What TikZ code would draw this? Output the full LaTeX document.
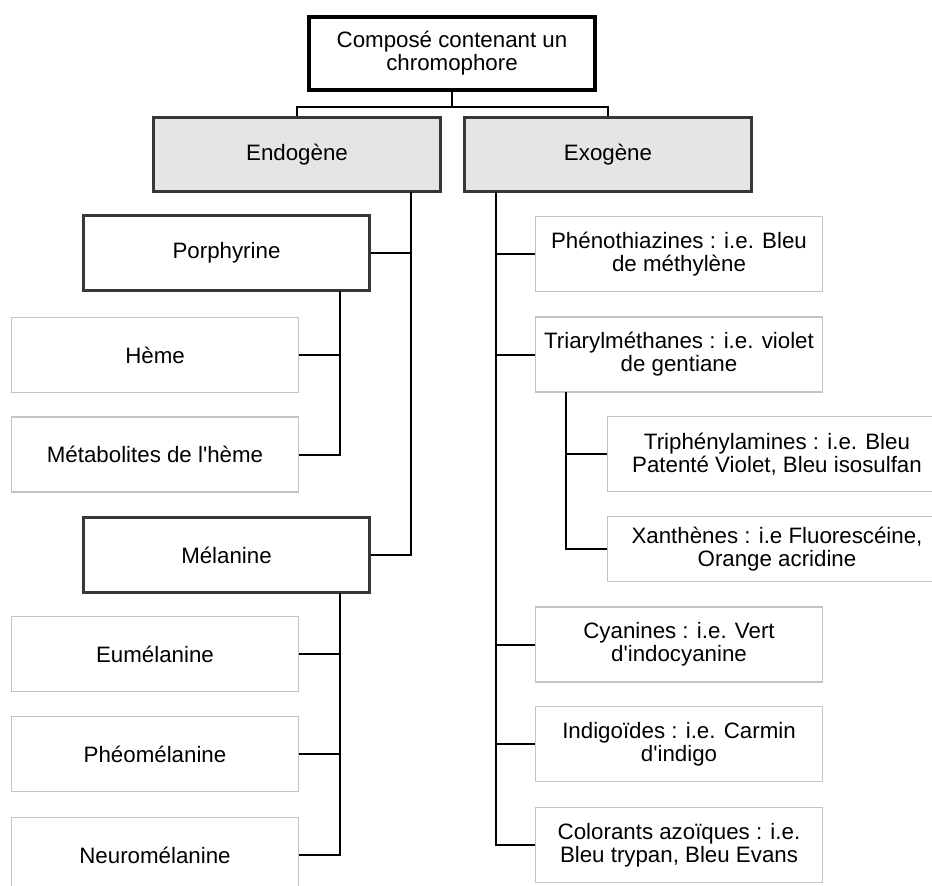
\documentclass[tikz,border=0pt]{standalone}
\usepackage{fontspec}
\newfontfamily\diagfont{Liberation Sans}
\definecolor{boxgray}{RGB}{229,229,229}
\definecolor{lightline}{RGB}{195,195,195}
\definecolor{darkline}{RGB}{55,55,55}
\begin{document}
\begin{tikzpicture}[x=1pt,y=-1pt,
    every node/.style={font=\diagfont\fontsize{22.3}{23}\selectfont, align=center, inner sep=0pt},
    topbox/.style={draw=black, line width=3.8pt, minimum width=286pt, minimum height=73pt},
    groupbox/.style={draw=darkline, line width=2.4pt, fill=boxgray, minimum width=287pt, minimum height=74pt},
    midbox/.style={draw=darkline, line width=2.4pt, minimum width=286pt, minimum height=75pt},
    leafbox/.style={draw=lightline, line width=1.3pt, minimum width=287pt, minimum height=75pt},
    link/.style={line width=2pt}]
  \useasboundingbox (0,0) rectangle (932,886);
  % top and the two groups
  \node[topbox] (top) at (452,53.5) {Composé contenant un\\chromophore};
  \node[groupbox] (endo) at (297,154.5) {Endogène};
  \node[groupbox] (exo) at (608,154.5) {Exogène};
  % endogene side
  \node[midbox] (porph) at (226.5,253) {Porphyrine};
  \node[leafbox] (heme) at (155,355) {Hème};
  \node[leafbox] (metab) at (155,454.5) {Métabolites de l'hème};
  \node[midbox] (mela) at (226.5,555) {Mélanine};
  \node[leafbox] (eum) at (155,654) {Eumélanine};
  \node[leafbox] (pheo) at (155,754) {Phéomélanine};
  \node[leafbox] (neuro) at (155,855) {Neuromélanine};
  % exogene side
  \node[leafbox] (pheno) at (679,254) {Phénothiazines : i.e. Bleu\\de méthylène};
  \node[leafbox] (triar) at (679,354.5) {Triarylméthanes : i.e. violet\\de gentiane};
  \node[leafbox, minimum width=339pt] (triph) at (777,454) {Triphénylamines : i.e. Bleu\\Patenté Violet, Bleu isosulfan};
  \node[leafbox, minimum width=339pt, minimum height=65pt] (xanth) at (777,549) {Xanthènes : i.e Fluorescéine,\\Orange acridine};
  \node[leafbox] (cyan) at (679,644.5) {Cyanines : i.e. Vert\\d'indocyanine};
  \node[leafbox] (indigo) at (679,744) {Indigoïdes : i.e. Carmin\\d'indigo};
  \node[leafbox] (azo) at (679,845) {Colorants azoïques : i.e.\\Bleu trypan, Bleu Evans};
  % connectors
  \coordinate (split) at (452,107);
  \coordinate (endoTrunk) at (411,192);
  \coordinate (porphTrunk) at (340,291);
  \coordinate (melaTrunk) at (340,593);
  \coordinate (exoTrunk) at (496,192);
  \coordinate (triarTrunk) at (566,392);
  \draw[link] (top) -- (split);
  \draw[link] (endo.north) |- (split) -| (exo.north);
  \foreach \kid in {porph,mela}
    \draw[link] (endoTrunk) |- (\kid.east);
  \foreach \kid in {heme,metab}
    \draw[link] (porphTrunk) |- (\kid.east);
  \foreach \kid in {eum,pheo,neuro}
    \draw[link] (melaTrunk) |- (\kid.east);
  \foreach \kid in {pheno,triar,cyan,indigo,azo}
    \draw[link] (exoTrunk) |- (\kid.west);
  \foreach \kid in {triph,xanth}
    \draw[link] (triarTrunk) |- (\kid.west);
\end{tikzpicture}
\end{document}
